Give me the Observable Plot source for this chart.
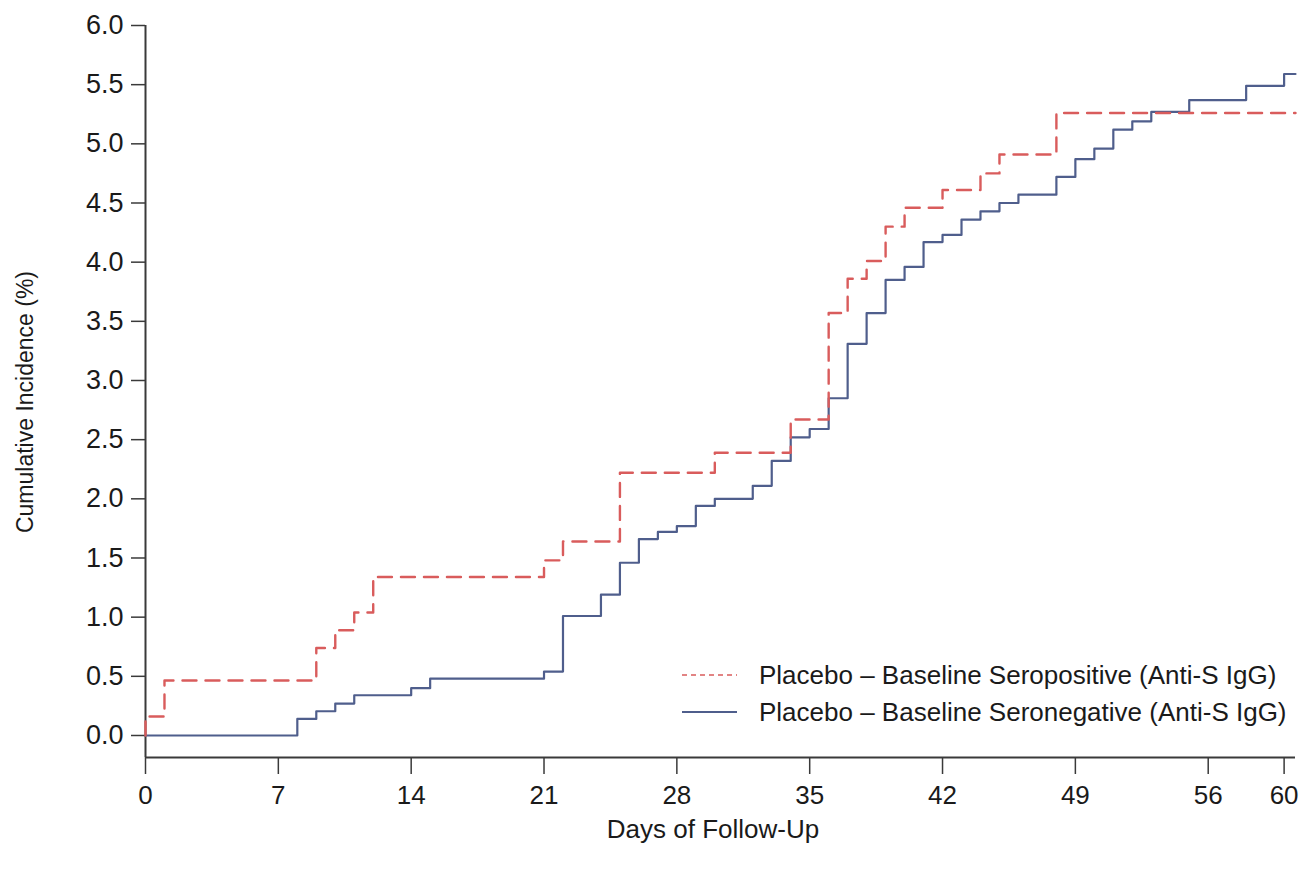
<!DOCTYPE html>
<html>
<head>
<meta charset="utf-8">
<script src="https://cdn.jsdelivr.net/npm/d3@7"></script>
<script src="https://cdn.jsdelivr.net/npm/@observablehq/plot@0.6"></script>
<style>
  html, body { margin: 0; padding: 0; background: #fff; }
  #chart { width: 1303px; height: 871px; }
  svg { font-family: "Liberation Sans", Arial, sans-serif; }
</style>
</head>
<body>
<div id="chart"></div>
<script>
// Placebo – Baseline Seropositive (Anti-S IgG): step times (days) and cumulative incidence (%)
const seroposDays = [0, 0, 1, 9, 10, 11, 12, 21, 22, 25, 30, 34, 36, 37, 38, 39, 40, 42, 44, 45, 48, 60.6];
const seroposInc  = [0, 0.16, 0.465, 0.74, 0.89, 1.04, 1.34, 1.48, 1.64, 2.22, 2.39, 2.67, 3.57, 3.86, 4.01, 4.30, 4.46, 4.61, 4.75, 4.91, 5.26, 5.26];

// Placebo – Baseline Seronegative (Anti-S IgG)
const seronegDays = [0, 8, 9, 10, 11, 14, 15, 21, 22, 24, 25, 26, 27, 28, 29, 30, 32, 33, 34, 35, 36, 37, 38, 39, 40, 41, 42, 43, 44, 45, 46, 48, 49, 50, 51, 52, 53, 55, 58, 60, 60.6];
const seronegInc  = [0, 0.14, 0.205, 0.27, 0.34, 0.40, 0.48, 0.54, 1.01, 1.19, 1.46, 1.66, 1.72, 1.77, 1.94, 2.00, 2.11, 2.32, 2.52, 2.59, 2.85, 3.31, 3.57, 3.85, 3.96, 4.17, 4.23, 4.36, 4.43, 4.50, 4.57, 4.72, 4.87, 4.96, 5.12, 5.19, 5.27, 5.37, 5.49, 5.59, 5.59];

const xTicks = [0, 7, 14, 21, 28, 35, 42, 49, 56, 60];
const yTicks = [0, 0.5, 1, 1.5, 2, 2.5, 3, 3.5, 4, 4.5, 5, 5.5, 6];

const seriesNames = ["Placebo – Baseline Seropositive (Anti-S IgG)", "Placebo – Baseline Seronegative (Anti-S IgG)"];
const xTitle = "Days of Follow-Up";
const yTitle = "Cumulative Incidence (%)";

const xDomain = [0, 60.6];
const yDomain = [-0.186, 6.0];

const redColor = "#d95c5c";
const blueColor = "#4f5e8c";
const axisColor = "#3a3a3a";

const pos = seroposDays.map((d, i) => ({day: d, inc: seroposInc[i]}));
const neg = seronegDays.map((d, i) => ({day: d, inc: seronegInc[i]}));

const W = 1303, H = 871;
const mL = 145, mR = 8, mT = 25, mB = 114;

const chart = Plot.plot({
  width: W,
  height: H,
  marginLeft: mL,
  marginRight: mR,
  marginTop: mT,
  marginBottom: mB,
  style: {fontFamily: '"Liberation Sans", Arial, sans-serif', background: "#fff", color: "#1a1a1a"},
  x: {domain: xDomain},
  y: {domain: yDomain},
  marks: [
    Plot.axisX({ticks: xTicks, tickSize: 17, tickPadding: 11, fontSize: 26, label: null, stroke: axisColor, strokeWidth: 1.5}),
    Plot.axisY({ticks: yTicks, tickSize: 14, tickPadding: 8, fontSize: 27, label: null, tickFormat: d3.format(".1f"), stroke: axisColor, strokeWidth: 1.5}),
    Plot.ruleX([xDomain[0]], {stroke: axisColor, strokeWidth: 2}),
    Plot.ruleY([yDomain[0]], {stroke: axisColor, strokeWidth: 2}),
    Plot.line(neg, {x: "day", y: "inc", curve: "step-after", stroke: blueColor, strokeWidth: 2.2}),
    Plot.line(pos, {x: "day", y: "inc", curve: "step-after", stroke: redColor, strokeWidth: 2.4, strokeDasharray: "14,9"})
  ]
});

document.getElementById("chart").appendChild(chart);

// Titles and in-plot legend
const svg = d3.select(chart);
svg.append("text")
  .attr("x", 713).attr("y", 838)
  .attr("text-anchor", "middle")
  .attr("font-size", 26)
  .attr("fill", "#1a1a1a")
  .text(xTitle);
svg.append("text")
  .attr("transform", "translate(33,402) rotate(-90)")
  .attr("text-anchor", "middle")
  .attr("font-size", 23)
  .attr("fill", "#1a1a1a")
  .text(yTitle);

const legend = svg.append("g").attr("text-anchor", "start");
const legendRows = [
  {name: seriesNames[0], color: redColor, dash: "5,4", width: 1.6, y: 675},
  {name: seriesNames[1], color: blueColor, dash: null, width: 1.8, y: 712}
];
legendRows.forEach(r => {
  legend.append("line")
    .attr("x1", 682).attr("x2", 737).attr("y1", r.y).attr("y2", r.y)
    .attr("stroke", r.color).attr("stroke-width", r.width)
    .attr("stroke-dasharray", r.dash);
  legend.append("text")
    .attr("x", 759).attr("y", r.y + 9)
    .attr("text-anchor", "start")
    .attr("font-size", 26)
    .attr("fill", "#1a1a1a")
    .text(r.name);
});
</script>
</body>
</html>
